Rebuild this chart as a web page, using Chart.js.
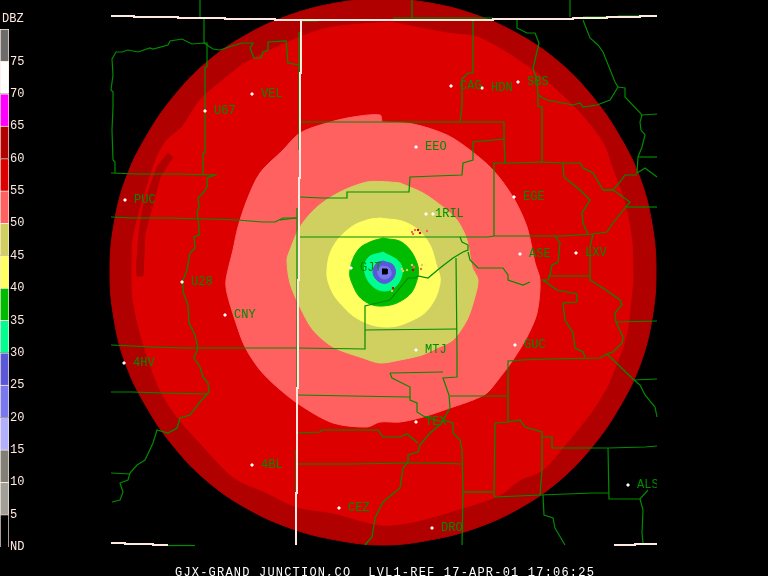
<!DOCTYPE html>
<html>
<head>
<meta charset="utf-8">
<title>GJX radar reflectivity</title>
<script src="https://cdn.jsdelivr.net/npm/chart.js@4"></script>
<style>
    html, body { margin: 0; padding: 0; background: #000; overflow: hidden; }
    #map { position: absolute; left: 0; top: 0; }
    #scale { position: absolute; left: 0; top: 0; }
</style>
</head>
<body>
<canvas id="map" width="768" height="576"></canvas>
<canvas id="scale" width="48" height="576"></canvas>
<script>
// dBZ colour scale, bottom to top, one cell per 5 dBZ
const dbzColors = ["#000000", "#a0a098", "#808078", "#b0b0ff", "#7878f0", "#5858d8", "#00ff90", "#00bb00",
    "#ffff60", "#d0d060", "#ff6060", "#dd0000", "#b00000", "#ff00ff", "#ffffff", "#6c6c6c"];
const dbzStep = 5;

const captionText = "GJX-GRAND JUNCTION,CO  LVL1-REF 17-APR-01 17:06:25";

// echo outlines, largest first
const echoDarkRed = [[383, -2], [430, 3], [476, 15], [520, 35], [559, 62], [592, 96], [619, 135], [640, 178], [652, 224],
    [656, 271], [652, 319], [640, 365], [619, 408], [592, 447], [559, 481], [520, 508], [476, 528], [430, 540], [383, 545],
    [336, 540], [290, 528], [246, 508], [207, 481], [174, 447], [147, 408], [126, 365], [114, 319], [110, 271], [114, 224],
    [126, 178], [147, 135], [174, 96], [207, 62], [246, 35], [290, 15], [336, 3], [383, -2]];
const echoRed = [[390, 22], [447, 33], [480, 38], [530, 68], [553, 87], [580, 113], [603, 143], [613, 170], [623, 197],
    [628, 217], [632, 243], [633, 280], [632, 290], [628, 327], [623, 347], [613, 373], [607, 387], [593, 410], [580, 427],
    [565, 445], [543, 470], [520, 480], [500, 495], [463, 508], [413, 522], [380, 525], [333, 513], [297, 507], [267, 493],
    [233, 477], [200, 443], [177, 417], [160, 390], [143, 343], [133, 300], [132, 280], [133, 240], [139, 213], [146, 190],
    [157, 157], [167, 140], [182, 127], [200, 100], [223, 80], [247, 62], [300, 37], [333, 27], [390, 22]];
const echoStreak = [[168, 153], [157, 167], [150, 187], [143, 207], [139, 233], [137, 260], [137, 276], [143, 276],
    [145, 233], [152, 207], [160, 177], [173, 157]];
const echoSalmon = [[382, 122], [413, 124], [447, 135], [470, 150], [493, 170], [513, 197], [527, 227], [535, 263],
    [540, 280], [537, 313], [527, 337], [513, 360], [498, 380], [487, 393], [473, 400], [453, 407], [423, 417], [400, 422],
    [380, 422], [367, 427], [333, 423], [300, 405], [277, 387], [260, 370], [245, 347], [235, 320], [227, 293], [226, 280],
    [233, 250], [238, 227], [247, 200], [260, 173], [283, 150], [300, 133], [327, 123], [353, 117], [380, 115], [382, 122]];
const echoKhaki = [[400, 183], [423, 193], [443, 207], [457, 220], [467, 240], [472, 267], [478, 280], [474, 300], [467, 320],
    [453, 340], [437, 348], [422, 355], [400, 360], [380, 363], [363, 358], [333, 347], [313, 330], [300, 307], [290, 283],
    [287, 260], [290, 250], [300, 227], [317, 207], [340, 192], [367, 182], [390, 182], [400, 183]];
const echoYellow = [[380, 218], [407, 223], [427, 240], [437, 267], [440, 283], [430, 307], [413, 320], [387, 327], [360, 320],
    [340, 303], [330, 287], [327, 270], [333, 247], [350, 228], [367, 220], [380, 218]];
const echoGreen = [[383, 238], [403, 243], [417, 263], [417, 280], [407, 297], [383, 306], [363, 300], [352, 283], [350, 270],
    [358, 250], [370, 242], [383, 238]];
const echoSpring = [[383, 252], [400, 263], [401, 278], [390, 290], [375, 288], [365, 273], [368, 258], [383, 252]];
const echoBlue = [[383, 261], [393, 265], [395, 275], [387, 283], [378, 281], [373, 272], [377, 263], [383, 261]];
const echoLightBlue = [[382, 266], [389, 268], [391, 275], [385, 279], [379, 276], [378, 269], [382, 266]];
const echoCore = [[382, 269], [387, 269], [387, 274], [382, 274]];

// small clutter returns around the radar
const clutterX = [412, 413, 415, 418, 420, 427, 403, 407, 412, 413, 422, 421, 402, 392, 393, 414];
const clutterY = [232, 234, 230, 230, 233, 231, 271, 270, 265, 270, 265, 269, 269, 291, 288, 267];
const clutterColors = ["#ff6060", "#ff6060", "#ff6060", "#dd0000", "#dd0000", "#ff6060", "#d0d060", "#d0d060", "#d0d060",
    "#dd0000", "#d0d060", "#ff6060", "#d0d060", "#d0d060", "#dd0000", "#ff6060"];

// state border drawn in white, in its stepped pieces
const borderLines = [
    [[111, 16], [134, 16], [134, 17], [178, 17], [178, 18], [225, 18], [225, 19], [275, 19], [275, 20], [493, 20], [493, 19],
        [573, 19], [573, 18], [607, 18], [607, 17], [640, 17], [640, 16], [657, 16]],
    [[301, 20], [301, 73], [300, 73], [300, 178], [299, 178], [299, 280], [298, 280], [298, 388], [297, 388], [297, 493],
        [296, 493], [296, 545]],
    [[111, 543], [125, 543], [125, 544], [153, 544], [153, 545], [168, 545]],
    [[614, 545], [635, 545], [635, 544], [657, 544]]
];

// county and state lines in green
const countyLines = [
    [[200, 0], [200, 18], [204, 18], [204, 43], [207, 43], [207, 67], [205, 67], [205, 153], [203, 153], [203, 175]],
    [[115, 173], [115, 162], [113, 160], [112, 130], [113, 107], [113, 92], [111, 90], [113, 75], [112, 59], [116, 52],
        [122, 52], [128, 50], [138, 52], [150, 48], [153, 49], [168, 45], [170, 41], [182, 39], [192, 44], [204, 43], [213, 49],
        [220, 50], [232, 46], [242, 43], [253, 43], [250, 48], [254, 58], [261, 58], [263, 52], [268, 50], [268, 42], [286, 41],
        [288, 63], [299, 65]],
    [[111, 173], [137, 174], [181, 174], [215, 175], [207, 178], [207, 187], [203, 193], [198, 198], [199, 207], [197, 212],
        [199, 227], [199, 235], [194, 237], [195, 248], [190, 253], [187, 270], [183, 280], [183, 292], [188, 305], [189, 323],
        [195, 335], [198, 348], [194, 358], [200, 367], [203, 377], [208, 383], [209, 392], [200, 402], [190, 415], [180, 418],
        [177, 428], [168, 433], [157, 430], [153, 443], [145, 460], [137, 465], [130, 473], [128, 480], [120, 483], [123, 492],
        [120, 500], [112, 502]],
    [[111, 473], [130, 474]],
    [[111, 217], [132, 218], [168, 218], [207, 219], [238, 220], [262, 222], [275, 222], [283, 218], [297, 218]],
    [[111, 345], [153, 347], [183, 348], [297, 348], [365, 349], [365, 306], [390, 300], [408, 278], [415, 278], [418, 276],
        [428, 278], [440, 268], [453, 258], [463, 252], [468, 250], [468, 245], [462, 242], [460, 237]],
    [[111, 392], [133, 392], [162, 393], [207, 394]],
    [[298, 395], [352, 396], [410, 397]],
    [[298, 433], [320, 432], [322, 430], [378, 430], [383, 437], [400, 437], [407, 434], [418, 443]],
    [[298, 464], [350, 464], [408, 463], [435, 463], [462, 464]],
    [[365, 545], [372, 537], [375, 518], [383, 502], [400, 488], [403, 468], [408, 462], [408, 455], [418, 452], [420, 445],
        [430, 433], [442, 423]],
    [[301, 122], [504, 122], [504, 139], [505, 163]],
    [[504, 139], [473, 142], [473, 160], [463, 163], [462, 175], [435, 176], [410, 177], [409, 192], [347, 192], [347, 198],
        [322, 198], [300, 197]],
    [[300, 237], [488, 237], [494, 236], [537, 236], [563, 236], [593, 234], [607, 232], [613, 223], [625, 208], [630, 202],
        [623, 197], [613, 190], [603, 190], [593, 173], [583, 168], [580, 163], [563, 163], [542, 162], [513, 163], [494, 163],
        [494, 236]],
    [[603, 190], [613, 190], [620, 182], [625, 175], [637, 175]],
    [[625, 207], [657, 207]],
    [[563, 163], [564, 177], [580, 190], [590, 200], [582, 213], [583, 223], [588, 234]],
    [[542, 162], [542, 107], [538, 106], [538, 95], [537, 80], [533, 68], [535, 60], [539, 43], [535, 33], [527, 33], [517, 28],
        [517, 20]],
    [[538, 95], [543, 98], [547, 100], [573, 105], [580, 103], [583, 107], [597, 105], [610, 100], [618, 87], [615, 82],
        [603, 52], [598, 45], [590, 38], [583, 20]],
    [[618, 87], [625, 88], [625, 97], [642, 115], [657, 114]],
    [[642, 115], [640, 122], [641, 130], [645, 135], [642, 147], [638, 157], [637, 173], [645, 168], [657, 177]],
    [[638, 157], [657, 157]],
    [[412, 0], [412, 18]],
    [[570, 0], [570, 17]],
    [[393, 18], [493, 18]],
    [[583, 17], [607, 17]],
    [[618, 16], [640, 16]],
    [[168, 545.5], [195, 545.5]],
    [[301, 21], [318, 21]],
    [[473, 20], [473, 73], [468, 73], [462, 79], [462, 107], [460, 122]],
    [[299, 32], [299, 150]],
    [[297, 208], [297, 387]],
    [[296, 450], [296, 493]],
    [[555, 236], [560, 243], [558, 262], [552, 265], [550, 275], [548, 280], [543, 280], [557, 290], [577, 294], [577, 302],
        [563, 303], [565, 320], [573, 333], [575, 348], [583, 352], [585, 357]],
    [[548, 276], [590, 276]],
    [[593, 234], [590, 247], [590, 280], [603, 288], [620, 300], [622, 305], [615, 313], [616, 322], [623, 337], [622, 343],
        [613, 352], [607, 354], [600, 358], [547, 359], [522, 360], [508, 361], [508, 422]],
    [[616, 322], [657, 321]],
    [[607, 354], [634, 380], [640, 385], [645, 395], [655, 407], [657, 417]],
    [[634, 380], [657, 379]],
    [[495, 423], [508, 422], [520, 420], [525, 427], [542, 432], [542, 470], [540, 495], [495, 497], [494, 495], [495, 423]],
    [[542, 437], [552, 437], [552, 448], [608, 448], [645, 447], [657, 446]],
    [[540, 495], [593, 493], [609, 493]],
    [[608, 448], [609, 499], [640, 499], [648, 490]],
    [[640, 499], [643, 510], [642, 533], [643, 543]],
    [[543, 495], [544, 515], [553, 518], [555, 528], [565, 545]],
    [[462, 545], [463, 492], [462, 450], [460, 440], [453, 433], [453, 423], [443, 420], [450, 408], [449, 395], [443, 378],
        [457, 377], [457, 353], [456, 258]],
    [[463, 492], [493, 492]],
    [[450, 396], [508, 396]],
    [[390, 373], [443, 372]],
    [[390, 373], [392, 378], [410, 387], [410, 400], [417, 403], [417, 412], [425, 417], [443, 422]],
    [[365, 330], [457, 329]],
    [[468, 252], [470, 260], [478, 268], [503, 268], [508, 275], [508, 280], [523, 285], [530, 282]],
    [[280, 220], [296, 218]]
];

// radar sites and their identifiers
const stationNames = ["VEL", "U67", "PUC", "U28", "CNY", "4HV", "4BL", "CEZ", "TEX", "DRO", "MTJ", "GUC", "ALS", "ASE", "LXV",
    "EGE", "SBS", "HDN", "CAG", "EEO", "1RIL", "GJT"];
const stationX = [252, 205, 125, 182, 225, 124, 252, 339, 416, 432, 416, 515, 628, 520, 576, 514, 518, 482, 451, 416, 433, 351];
const stationY = [94, 111, 200, 282, 315, 363, 465, 508, 422, 528, 350, 345, 485, 254, 253, 197, 82, 88, 86, 147, 214, 268];
const extraMarkerX = [426];
const extraMarkerY = [214];

const stationGreen = "#008c00";
const paleLine = "#ffe9e0";

function toPoints(pairs) {
    return pairs.map(p => ({x: p[0], y: p[1]}));
}

function echoDataset(pairs, color, order, tension) {
    return {
        data: toPoints(pairs),
        showLine: true,
        fill: "shape",
        backgroundColor: color,
        borderColor: color,
        borderWidth: 1,
        pointRadius: 0,
        tension: tension || 0,
        order: order,
    };
}

function lineDataset(pairs, color, width, order) {
    return {
        data: toPoints(pairs),
        showLine: true,
        fill: false,
        borderColor: color,
        borderWidth: width,
        pointRadius: 0,
        order: order,
    };
}

// station identifiers and the caption, placed through the chart's scales
const mapTextPlugin = {
    id: "mapText",
    afterDatasetsDraw(chart) {
        const ctx = chart.ctx;
        const xs = chart.scales.x;
        const ys = chart.scales.y;
        ctx.save();
        ctx.beginPath();
        ctx.rect(xs.getPixelForValue(111), 0, xs.getPixelForValue(657) - xs.getPixelForValue(111), 576);
        ctx.clip();
        ctx.font = "12px 'Liberation Mono'";
        ctx.textBaseline = "middle";
        ctx.fillStyle = stationGreen;
        stationNames.forEach((name, i) => {
            ctx.fillText(name, xs.getPixelForValue(stationX[i] + (name === "1RIL" ? 2 : 9)), ys.getPixelForValue(stationY[i]));
        });
        ctx.restore();

        ctx.save();
        ctx.font = "12px 'Liberation Mono'";
        ctx.letterSpacing = "1.2px";
        ctx.textBaseline = "alphabetic";
        ctx.fillStyle = "#ffffff";
        ctx.fillText(captionText, xs.getPixelForValue(175), ys.getPixelForValue(576));
        ctx.restore();
    },
};

const scaleTitlePlugin = {
    id: "scaleTitle",
    afterDraw(chart) {
        const ctx = chart.ctx;
        ctx.save();
        ctx.font = "12px 'Liberation Mono'";
        ctx.textBaseline = "middle";
        ctx.fillStyle = paleLine;
        ctx.fillText("DBZ", 2, 19);
        ctx.restore();
    },
};

const mapDatasets = [
    echoDataset(echoDarkRed, dbzColors[12], 30, 0.4),
    echoDataset(echoRed, dbzColors[11], 29, 0.3),
    echoDataset(echoStreak, dbzColors[12], 28),
    echoDataset(echoSalmon, dbzColors[10], 27, 0.3),
    echoDataset(echoKhaki, dbzColors[9], 26, 0.3),
    echoDataset(echoYellow, dbzColors[8], 25, 0.4),
    echoDataset(echoGreen, dbzColors[7], 24, 0.4),
    echoDataset(echoSpring, dbzColors[6], 23, 0.4),
    echoDataset(echoBlue, dbzColors[5], 22, 0.4),
    echoDataset(echoLightBlue, dbzColors[4], 21, 0.4),
    echoDataset(echoCore, "#000000", 20),
    {
        data: clutterX.map((x, i) => ({x: x, y: clutterY[i]})),
        pointStyle: "rect",
        pointRadius: 1.5,
        pointBorderWidth: 0,
        pointBackgroundColor: clutterColors,
        order: 19,
    },
];
countyLines.forEach(line => mapDatasets.push(lineDataset(line, stationGreen, 1.2, 10)));
borderLines.forEach(line => mapDatasets.push(lineDataset(line, paleLine, 2, 5)));
mapDatasets.push({
    data: stationX.concat(extraMarkerX).map((x, i) => ({x: x, y: stationY.concat(extraMarkerY)[i]})),
    pointStyle: "rectRot",
    pointRadius: 2,
    pointBorderWidth: 0,
    pointBackgroundColor: "#ffffff",
    order: 1,
});

new Chart(document.getElementById("map").getContext("2d"), {
    type: "scatter",
    data: {datasets: mapDatasets},
    options: {
        responsive: false,
        animation: false,
        devicePixelRatio: 1,
        layout: {padding: 0, autoPadding: false},
        plugins: {legend: {display: false}, tooltip: {enabled: false}},
        scales: {
            x: {type: "linear", min: 0, max: 768, display: false},
            y: {type: "linear", min: 0, max: 576, reverse: true, display: false},
        },
    },
    plugins: [mapTextPlugin],
});

new Chart(document.getElementById("scale").getContext("2d"), {
    type: "bar",
    data: {
        labels: ["dBZ"],
        datasets: dbzColors.map(color => ({
            data: [dbzStep],
            backgroundColor: color,
            borderColor: paleLine,
            borderWidth: 1,
            barPercentage: 1,
            categoryPercentage: 1,
            stack: "dbz",
        })),
    },
    options: {
        responsive: false,
        animation: false,
        devicePixelRatio: 1,
        layout: {padding: {top: 29, bottom: 29, left: 0, right: 0}, autoPadding: false},
        plugins: {legend: {display: false}, tooltip: {enabled: false}},
        scales: {
            x: {display: false, stacked: true},
            y: {
                position: "right",
                stacked: true,
                min: 0,
                max: dbzColors.length * dbzStep,
                grid: {display: false, drawTicks: false},
                border: {display: false},
                afterFit(axis) { axis.width = 39; },
                ticks: {
                    stepSize: dbzStep,
                    autoSkip: false,
                    padding: 1,
                    color: paleLine,
                    font: {family: "Liberation Mono", size: 12},
                    callback(value) {
                        if (value === 0) return "ND";
                        if (value === dbzColors.length * dbzStep) return "";
                        return String(value);
                    },
                },
            },
        },
    },
    plugins: [scaleTitlePlugin],
});
</script>
</body>
</html>
